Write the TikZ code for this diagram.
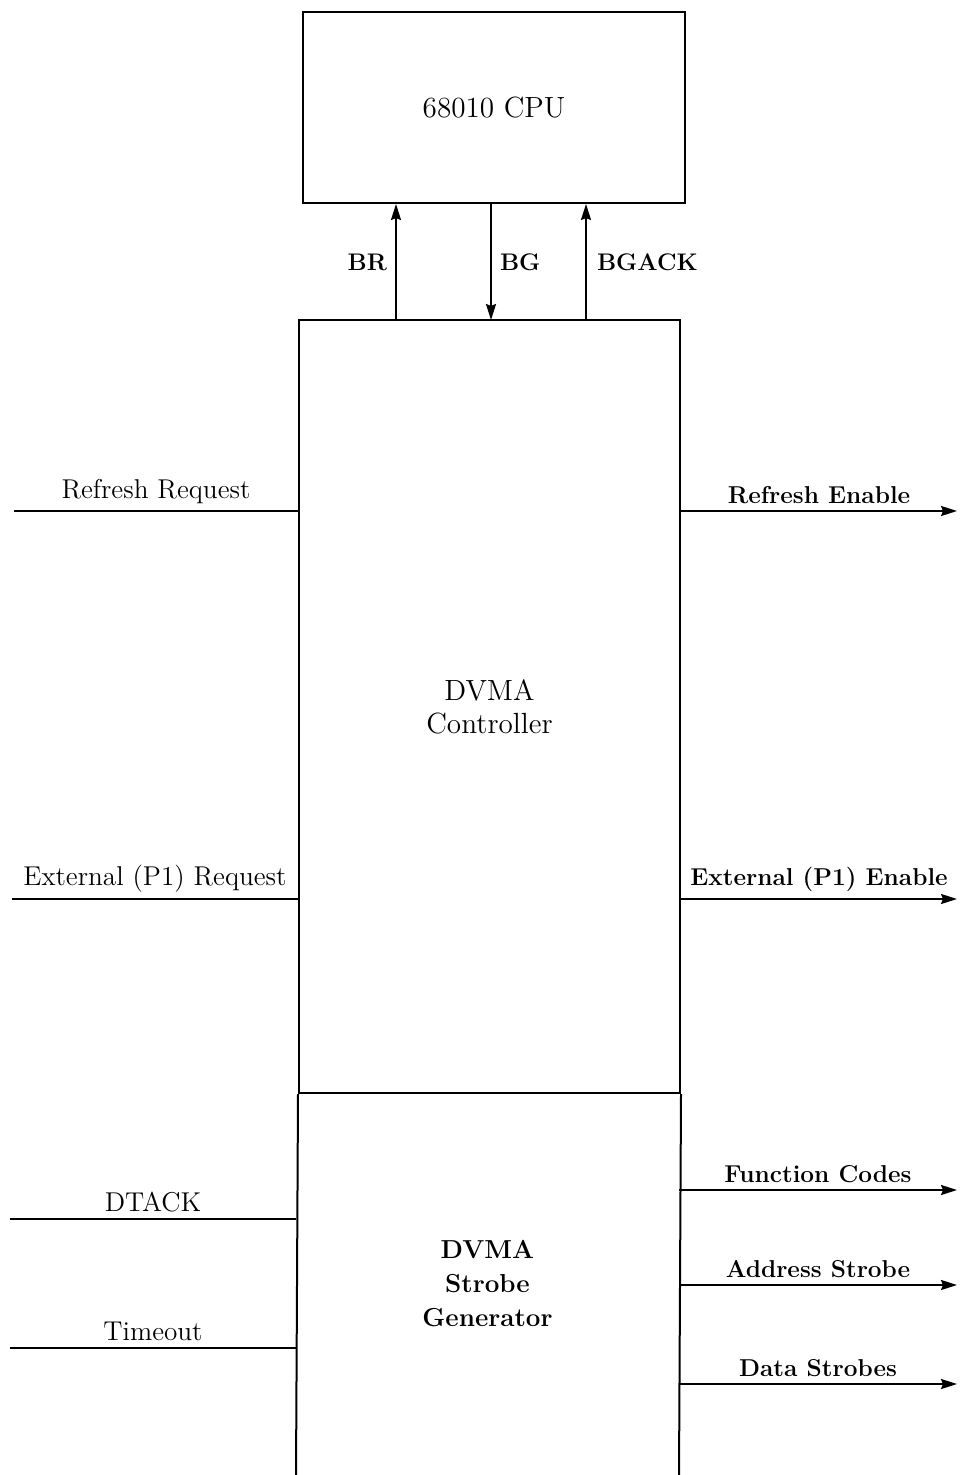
\documentclass[tikz,border=0pt]{standalone}
\usepackage{tikz}
\usetikzlibrary{arrows.meta,positioning,calc}

\begin{document}
\begin{tikzpicture}[x=0.5pt,y=-0.5pt,line width=1pt]
    \tikzset{blockbox/.style={draw,rectangle,inner sep=0pt,align=center,font=\fontsize{14.6}{16.5}\selectfont},
      sig/.style={-{Stealth[length=8pt,width=5pt,inset=1pt]}},
      siglbl/.style={midway,above,inner sep=3pt,font=\fontsize{13.6}{16}\selectfont},
      boldlbl/.style={siglbl,font=\fontsize{12.2}{14}\selectfont\bfseries},
      buslbl/.style={midway,inner sep=4pt,font=\fontsize{12}{14}\selectfont\bfseries}}
    \useasboundingbox (0,0) rectangle (959,1475);
    % blocks
    \node[blockbox,minimum width=191pt,minimum height=95.5pt] (cpu) at (494,107.5) {68010 CPU};
    \node[blockbox,minimum width=190.5pt,minimum height=386.5pt] (ctrl) at (489.5,706.5) {DVMA\\Controller};
    \node[blockbox,draw=none,minimum width=190.5pt,minimum height=191pt,
      font=\fontsize{13}{17}\selectfont\bfseries] (strobe) at (487.5,1284) {DVMA\\Strobe\\Generator};
    \draw (ctrl.south west) -- (strobe.south west);
    \draw (ctrl.south east) -- (strobe.south east);
    % bus arbitration
    \coordinate (br) at (396,320);
    \coordinate (bg) at (491,320);
    \coordinate (bgack) at (586,320);
    \draw[sig] (br) -- (br |- cpu.south) node[buslbl,left] {BR};
    \draw[sig] (bg |- cpu.south) -- (bg) node[buslbl,right] {BG};
    \draw[sig] (bgack) -- (bgack |- cpu.south) node[buslbl,right,inner sep=5pt] {BGACK};
    % inputs
    \coordinate (rreq) at (14,511);
    \coordinate (ereq) at (12,899);
    \coordinate (dtack) at (10,1219);
    \coordinate (tmo) at (10,1348);
    \draw (rreq) -- (rreq -| ctrl.west) node[siglbl] {Refresh Request};
    \draw (ereq) -- (ereq -| ctrl.west) node[siglbl] {External (P1) Request};
    \draw (dtack) -- (dtack -| strobe.west) node[siglbl] {DTACK};
    \draw (tmo) -- (tmo -| strobe.west) node[siglbl] {Timeout};
    % outputs
    \coordinate (ren) at (957,511);
    \coordinate (een) at (957,899);
    \coordinate (fc) at (957,1190);
    \coordinate (as) at (957,1285);
    \coordinate (ds) at (957,1384);
    \draw[sig] (ren -| ctrl.east) -- (ren) node[boldlbl] {Refresh Enable};
    \draw[sig] (een -| ctrl.east) -- (een) node[boldlbl] {External (P1) Enable};
    \draw[sig] (fc -| strobe.east) -- (fc) node[boldlbl] {Function Codes};
    \draw[sig] (as -| strobe.east) -- (as) node[boldlbl] {Address Strobe};
    \draw[sig] (ds -| strobe.east) -- (ds) node[boldlbl] {Data Strobes};
\end{tikzpicture}
\end{document}
